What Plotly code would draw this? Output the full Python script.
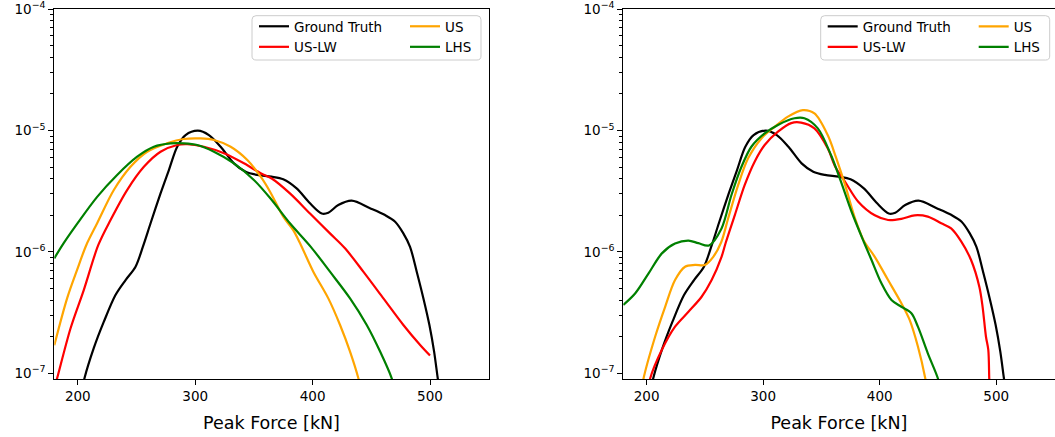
import plotly.graph_objects as go

# ---------------- data ----------------
gt_x = [204.5, 205.7, 213.6, 222.2, 232.1, 240.7, 249.2, 255.7, 262.0, 270.5, 277.6, 284.7, 291.8,
        302.3, 311.7, 321.7, 333.0, 343.0, 352.9, 365.0, 375.0, 386.4, 397.8, 407.8, 413.4, 421.9,
        433.3, 448.9, 461.7, 470.3, 477.3, 483.0, 488.7, 494.4, 499.5, 503.5, 506.6, 507.5]
gt_y = [8.0e-8, 9.1e-8, 1.61e-7, 2.66e-7, 4.41e-7, 5.86e-7, 7.55e-7, 1.12e-6, 1.72e-6, 3.03e-6,
        4.72e-6, 7.34e-6, 9.16e-6, 9.96e-6, 9.16e-6, 7.34e-6, 5.36e-6, 4.57e-6, 4.30e-6, 4.16e-6,
        3.96e-6, 3.33e-6, 2.51e-6, 2.07e-6, 2.10e-6, 2.43e-6, 2.64e-6, 2.29e-6, 2.01e-6, 1.77e-6,
        1.42e-6, 1.10e-6, 6.87e-7, 4.14e-7, 2.50e-7, 1.51e-7, 9.1e-8, 8.0e-8]

# left panel
l_uslw_x = [180.0, 182.4, 193.8, 205.1, 217.5, 227.9, 242.0, 256.3, 270.5, 284.7, 293.2, 307.4,
            324.5, 341.5, 355.8, 365.5, 380.7, 397.8, 414.8, 427.6, 443.2, 460.3, 477.3, 491.6, 500.0]
l_uslw_y = [7.5e-8, 9.1e-8, 2.34e-7, 4.85e-7, 1.14e-6, 1.83e-6, 3.23e-6, 5.02e-6, 6.68e-6, 7.59e-6,
            7.7e-6, 7.34e-6, 6.49e-6, 5.36e-6, 4.44e-6, 4.0e-6, 3.03e-6, 2.07e-6, 1.42e-6, 1.07e-6,
            6.87e-7, 4.14e-7, 2.50e-7, 1.71e-7, 1.40e-7]
l_us_x = [180.0, 190.9, 199.4, 207.3, 216.5, 230.7, 244.9, 259.1, 276.1, 290.0, 304.6, 316.0,
          330.2, 344.4, 355.8, 364.0, 375.0, 383.5, 390.0, 400.6, 413.4, 423.4, 431.9, 439.0, 441.0]
l_us_y = [1.7e-7, 4.14e-7, 7.1e-7, 1.14e-6, 1.72e-6, 3.23e-6, 5.02e-6, 6.68e-6, 7.83e-6, 8.5e-6,
          8.6e-6, 8.34e-6, 7.34e-6, 5.71e-6, 4.16e-6, 3.1e-6, 1.95e-6, 1.51e-6, 1.14e-6, 6.87e-7,
          4.14e-7, 2.50e-7, 1.51e-7, 9.1e-8, 7.5e-8]
l_lhs_x = [180.0, 188.0, 199.4, 216.5, 233.5, 250.6, 264.8, 279.0, 290.4, 301.7, 316.0, 333.0,
           350.0, 364.0, 380.7, 398.5, 414.8, 431.9, 446.1, 457.5, 467.4, 469.0]
l_lhs_y = [8.85e-7, 1.18e-6, 1.70e-6, 2.84e-6, 4.30e-6, 6.08e-6, 7.34e-6, 7.83e-6, 7.83e-6, 7.59e-6,
           6.68e-6, 5.36e-6, 3.91e-6, 2.76e-6, 1.72e-6, 1.10e-6, 6.87e-7, 4.14e-7, 2.50e-7, 1.51e-7,
           9.1e-8, 8.0e-8]

# right panel
r_uslw_x = [202.0, 203.1, 213.1, 224.4, 235.9, 247.2, 255.8, 264.3, 268.0, 275.7, 284.2, 292.7,
            301.3, 312.7, 324.1, 332.6, 344.0, 355.4, 362.0, 370.3, 381.6, 395.8, 407.2, 418.6,
            430.0, 441.3, 452.8, 461.3, 469.9, 478.4, 485.5, 488.3, 491.2, 493.2, 494.0, 494.3]
r_uslw_y = [8.0e-8, 9.1e-8, 1.56e-7, 2.42e-7, 3.21e-7, 4.27e-7, 5.86e-7, 9.1e-7, 1.2e-6, 2.01e-6,
            3.56e-6, 5.53e-6, 7.59e-6, 9.77e-6, 1.15e-5, 1.16e-5, 1.04e-5, 7.13e-6, 5.0e-6, 3.78e-6,
            2.59e-6, 2.0e-6, 1.83e-6, 1.87e-6, 2.0e-6, 1.95e-6, 1.72e-6, 1.56e-6, 1.22e-6, 8.57e-7,
            5.16e-7, 3.53e-7, 2.0e-7, 1.56e-7, 9.1e-8, 8.0e-8]
r_us_x = [196.0, 197.4, 207.3, 215.9, 224.4, 233.0, 241.5, 250.0, 257.2, 264.0, 270.0, 278.6,
          287.1, 298.5, 309.8, 321.3, 334.1, 344.0, 355.4, 362.5, 370.3, 378.8, 386.5, 395.8,
          407.2, 418.6, 425.7, 432.8, 439.1, 440.5]
r_us_y = [7.5e-8, 9.1e-8, 2.0e-7, 3.53e-7, 5.86e-7, 7.55e-7, 7.8e-7, 7.8e-7, 9.1e-7, 1.2e-6,
          1.89e-6, 3.56e-6, 5.89e-6, 8.6e-6, 1.07e-5, 1.30e-5, 1.47e-5, 1.38e-5, 9.16e-6, 6.0e-6,
          3.56e-6, 1.89e-6, 1.23e-6, 9.1e-7, 5.86e-7, 3.77e-7, 2.75e-7, 1.66e-7, 9.1e-8, 7.5e-8]
r_lhs_x = [180.0, 190.3, 201.7, 213.1, 224.4, 235.9, 244.4, 253.5, 264.3, 272.8, 281.4, 289.9,
           301.3, 312.7, 326.9, 335.4, 346.9, 358.2, 366.3, 375.9, 386.5, 393.0, 401.5, 410.1,
           418.6, 427.2, 432.8, 441.3, 449.9, 451.0]
r_lhs_y = [3.65e-7, 4.56e-7, 6.65e-7, 9.72e-7, 1.17e-6, 1.24e-6, 1.18e-6, 1.13e-6, 1.56e-6, 2.94e-6,
           5.02e-6, 7.34e-6, 9.46e-6, 1.11e-5, 1.26e-5, 1.26e-5, 1.04e-5, 6.28e-6, 3.9e-6, 2.14e-6,
           1.2e-6, 8.57e-7, 5.51e-7, 4.02e-7, 3.53e-7, 3.12e-7, 2.42e-7, 1.46e-7, 9.1e-8, 8.0e-8]

x_ticks = [200, 300, 400, 500]
y_ticks = [1e-7, 1e-6, 1e-5, 1e-4]
y_ticktext = ["10<sup>−7</sup>", "10<sup>−6</sup>", "10<sup>−5</sup>", "10<sup>−4</sup>"]
y_minor = [m * 10.0 ** e for e in (-7, -6, -5) for m in range(2, 10)]

colors = {"Ground Truth": "black", "US-LW": "#ff0000", "US": "#ffa500", "LHS": "#008000"}
FONT = "DejaVu Sans"
W, H = 1055, 437

fig = go.Figure()

# legend columns: (left panel col1, col2), (right panel col1, col2)
panels = [
    ("x", "y", {"Ground Truth": "legend", "US-LW": "legend", "US": "legend2", "LHS": "legend2"},
     [("Ground Truth", gt_x, gt_y), ("US-LW", l_uslw_x, l_uslw_y),
      ("US", l_us_x, l_us_y), ("LHS", l_lhs_x, l_lhs_y)]),
    ("x2", "y2", {"Ground Truth": "legend3", "US-LW": "legend3", "US": "legend4", "LHS": "legend4"},
     [("Ground Truth", gt_x, gt_y), ("US-LW", r_uslw_x, r_uslw_y),
      ("US", r_us_x, r_us_y), ("LHS", r_lhs_x, r_lhs_y)]),
]
for xa, ya, lgmap, series in panels:
    for name, xs, ys in series:
        fig.add_trace(go.Scatter(
            x=xs, y=ys, name=name, mode="lines", xaxis=xa, yaxis=ya, legend=lgmap[name],
            line=dict(color=colors[name], width=2.2, shape="spline", smoothing=0.9),
        ))

axis_common = dict(showline=True, linecolor="black", linewidth=1, mirror=True,
                   ticks="outside", ticklen=5, tickwidth=1, tickcolor="black",
                   showgrid=False, zeroline=False, ticklabeloverflow="allow",
                   automargin=False,
                   tickfont=dict(family=FONT, size=13.5, color="black"))

xcommon = dict(axis_common, range=[180, 550], tickvals=x_ticks,
               title=dict(text="Peak Force [kN]", font=dict(family=FONT, size=17.5, color="black"),
                          standoff=13))
ycommon = dict(axis_common, type="log", range=[-7.047, -3.9998], tickvals=y_ticks,
               ticktext=y_ticktext,
               minor=dict(tickmode="array", tickvals=y_minor, ticks="outside", ticklen=3,
                          tickwidth=0.8, tickcolor="black"))

ydom = [58 / H, 428 / H]
fig.update_layout(
    width=W, height=H,
    margin=dict(l=0, r=0, t=0, b=0, autoexpand=False),
    paper_bgcolor="white", plot_bgcolor="white",
    font=dict(family=FONT, color="black"),
    xaxis=dict(xcommon, domain=[54.3 / W, 488.7 / W], anchor="y"),
    yaxis=dict(ycommon, domain=ydom, anchor="x"),
    xaxis2=dict(xcommon, domain=[623.3 / W, 1054.5 / W], anchor="y2"),
    yaxis2=dict(ycommon, domain=ydom, anchor="x2"),
)

legend_common = dict(orientation="v", xanchor="left", yanchor="top",
                     bgcolor="rgba(0,0,0,0)", borderwidth=0,
                     font=dict(family=FONT, size=13.5, color="black"),
                     itemwidth=30, tracegroupgap=0)
ltop = (H - 11) / H
fig.update_layout(
    legend=dict(legend_common, x=254 / W, y=ltop),
    legend2=dict(legend_common, x=405 / W, y=ltop),
    legend3=dict(legend_common, x=822.7 / W, y=ltop),
    legend4=dict(legend_common, x=973.7 / W, y=ltop),
)


def rounded_box(x0, y0, x1, y1, r=4):
    # pixel coords (top-left origin) -> paper path with rounded corners
    def P(x, y):
        return f"{x / W:.6f},{(H - y) / H:.6f}"
    return (f"M {P(x0 + r, y0)} L {P(x1 - r, y0)} Q {P(x1, y0)} {P(x1, y0 + r)} "
            f"L {P(x1, y1 - r)} Q {P(x1, y1)} {P(x1 - r, y1)} L {P(x0 + r, y1)} "
            f"Q {P(x0, y1)} {P(x0, y1 - r)} L {P(x0, y0 + r)} Q {P(x0, y0)} {P(x0 + r, y0)} Z")


for bx in (252, 820.7):
    fig.add_shape(type="path", xref="paper", yref="paper",
                  path=rounded_box(bx, 15.7, bx + 229, 60),
                  line=dict(color="#cccccc", width=1), fillcolor="white", layer="above")

fig.write_html("out.html")
